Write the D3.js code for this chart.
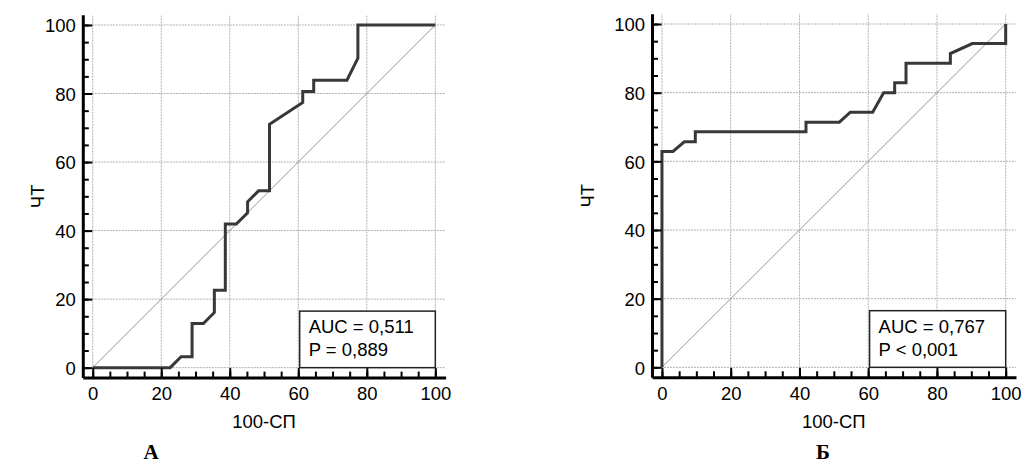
<!DOCTYPE html>
<html><head><meta charset="utf-8">
<script src="https://cdn.jsdelivr.net/npm/d3@7"></script>
<style>
body{margin:0;background:#fff;}
svg{display:block;}
text{font-family:"Liberation Sans",Arial,sans-serif;}
text.letter{font-family:"Liberation Serif","Times New Roman",serif;font-weight:bold;}
</style></head>
<body>
<svg id="chart" width="1022" height="463"></svg>
<script>
// ---- data ----
const panelLetters = ["А", "Б"];
const xAxisLabel = "100-СП";
const yAxisLabel = "ЧТ";
const majorTicks = [0, 20, 40, 60, 80, 100];
const minorTicks = d3.range(0, 101, 5);
const statsA = ["AUC = 0,511", "P = 0,889"];
const statsB = ["AUC = 0,767", "P < 0,001"];
// ROC A (100-Sp, Se)
const rocA_x = [0, 22.6, 25.8, 29.0, 29.0, 32.3, 35.5, 35.5, 38.7, 38.7, 41.9, 45.2, 45.2, 48.4, 51.6, 51.6, 61.3, 61.3, 64.5, 64.5, 74.2, 77.4, 77.4, 100];
const rocA_y = [0, 0, 3.2, 3.2, 12.9, 12.9, 16.1, 22.6, 22.6, 41.9, 41.9, 45.2, 48.4, 51.6, 51.6, 71.0, 77.4, 80.6, 80.6, 83.9, 83.9, 90.3, 100, 100];
// ROC B
const rocB_x = [0, 0, 3.2, 6.5, 9.7, 9.7, 41.9, 41.9, 51.6, 54.8, 61.3, 64.5, 67.7, 67.7, 71.0, 71.0, 83.9, 83.9, 90.3, 100, 100];
const rocB_y = [0, 62.9, 62.9, 65.7, 65.7, 68.6, 68.6, 71.4, 71.4, 74.3, 74.3, 80.0, 80.0, 82.9, 82.9, 88.6, 88.6, 91.4, 94.3, 94.3, 100];

const svg = d3.select("#chart");
const FS = 18.5;

function panel(cfg) {
  const dom = [-2.9, 103];
  const x = d3.scaleLinear().domain(dom).range(cfg.xr);
  const y = d3.scaleLinear().domain(dom).range(cfg.yr);
  const g = svg.append("g");

  // grid
  g.append("g").selectAll("line.v").data(majorTicks).join("line")
    .attr("x1", d => x(d)).attr("x2", d => x(d))
    .attr("y1", y(dom[0])).attr("y2", y(dom[1]))
    .attr("stroke", "#b0b0b0").attr("stroke-width", 1).attr("stroke-dasharray", "2,1");
  g.append("g").selectAll("line.h").data(majorTicks).join("line")
    .attr("y1", d => y(d)).attr("y2", d => y(d))
    .attr("x1", x(dom[0])).attr("x2", x(dom[1]))
    .attr("stroke", "#b0b0b0").attr("stroke-width", 1).attr("stroke-dasharray", "2,1");

  // diagonal
  g.append("line").attr("x1", x(0)).attr("y1", y(0)).attr("x2", x(100)).attr("y2", y(100))
    .attr("stroke", "#8a8a8a").attr("stroke-width", 0.9);

  // ROC curve
  const pts = cfg.xs.map((v, i) => [v, cfg.ys[i]]);
  g.append("path").datum(pts)
    .attr("d", d3.line().x(d => x(d[0])).y(d => y(d[1])))
    .attr("fill", "none").attr("stroke", "#383838").attr("stroke-width", 3)
    .attr("stroke-linejoin", "miter");

  // axes: minor
  const yb = y(dom[0]), xl = x(dom[0]);
  g.append("g").attr("transform", `translate(0,${yb})`)
    .call(d3.axisBottom(x).tickValues(minorTicks).tickSize(-6).tickSizeOuter(0).tickFormat(""))
    .call(s => s.select(".domain").remove())
    .call(s => s.selectAll(".tick line").attr("stroke", "#000").attr("stroke-width", 2));
  g.append("g").attr("transform", `translate(${xl},0)`)
    .call(d3.axisLeft(y).tickValues(minorTicks).tickSize(-6).tickSizeOuter(0).tickFormat(""))
    .call(s => s.select(".domain").remove())
    .call(s => s.selectAll(".tick line").attr("stroke", "#000").attr("stroke-width", 2));
  // axes: major
  g.append("g").attr("transform", `translate(0,${yb})`)
    .call(d3.axisBottom(x).tickValues(majorTicks).tickSize(-9.5).tickSizeOuter(0).tickPadding(0).tickFormat(d3.format("d")))
    .call(s => s.select(".domain").attr("stroke", "#000").attr("stroke-width", 3))
    .call(s => s.selectAll(".tick line").attr("stroke", "#000").attr("stroke-width", 2))
    .call(s => s.selectAll(".tick text").attr("y", 22.5).attr("dy", 0).attr("font-size", FS)
      .attr("fill", "#000"));
  g.append("g").attr("transform", `translate(${xl},0)`)
    .call(d3.axisLeft(y).tickValues(majorTicks).tickSize(-9.5).tickSizeOuter(0).tickFormat(d3.format("d")))
    .call(s => s.select(".domain").attr("stroke", "#000").attr("stroke-width", 3))
    .call(s => s.selectAll(".tick line").attr("stroke", "#000").attr("stroke-width", 2))
    .call(s => s.selectAll(".tick text").attr("x", -7).attr("dy", "0.36em").attr("font-size", FS)
      .attr("fill", "#000"));

  // axis titles
  g.append("text").attr("x", (x(0) + x(100)) / 2).attr("y", 428)
    .attr("text-anchor", "middle").attr("font-size", FS).text(xAxisLabel);
  g.append("text").attr("transform", `translate(${cfg.ylx},${(y(0) + y(100)) / 2}) rotate(-90)`)
    .attr("text-anchor", "middle").attr("dy", "0.36em").attr("font-size", FS).text(yAxisLabel);

  // stats box
  const bx0 = x(60.4), bx1 = x(100), by0 = y(16.5), by1 = y(0);
  g.append("rect").attr("x", bx0).attr("y", by0).attr("width", bx1 - bx0).attr("height", by1 - by0)
    .attr("fill", "#fff").attr("stroke", "#222").attr("stroke-width", 1.5);
  cfg.stats.forEach((t, i) => {
    g.append("text").attr("x", bx0 + 9).attr("y", by0 + 22 + i * 23)
      .attr("font-size", FS).attr("fill", "#000").text(t);
  });

  // panel letter
  g.append("text").attr("class", "letter").attr("x", cfg.letterX).attr("y", 459).attr("text-anchor", "middle")
    .attr("font-size", 21).text(cfg.letter);
}

panel({ xr: [82.8, 445.6], yr: [377.6, 14.7], xs: rocA_x, ys: rocA_y, stats: statsA,
        letter: panelLetters[0], letterX: 151, ylx: 37 });
panel({ xr: [652.0, 1016.0], yr: [377.3, 13.7], xs: rocB_x, ys: rocB_y, stats: statsB,
        letter: panelLetters[1], letterX: 823, ylx: 587 });
</script>
</body></html>
